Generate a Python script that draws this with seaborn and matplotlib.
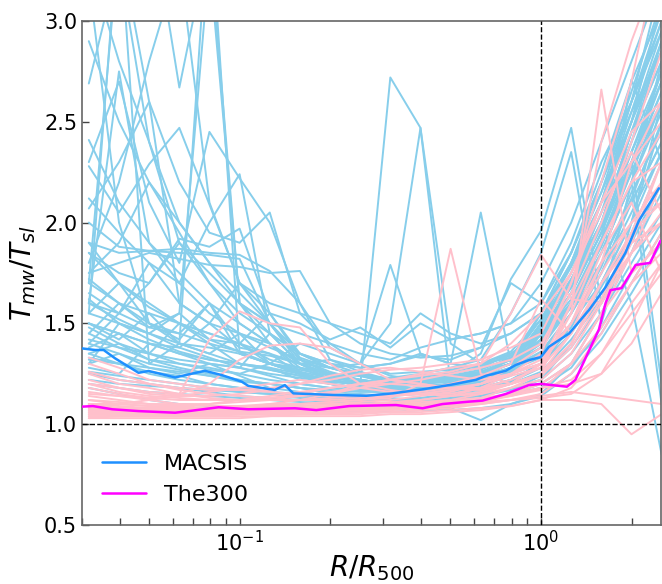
import pandas as pd
import matplotlib
matplotlib.use("Agg")
import matplotlib.pyplot as plt
import seaborn as sns

# radial bins (R/R500) of the individual profiles
radii = [0.0316, 0.0398, 0.0501, 0.0631, 0.0794, 0.1, 0.1259, 0.1585, 0.1995, 0.2512,
         0.3162, 0.3981, 0.5012, 0.631, 0.7943, 1.0, 1.2589, 1.5849, 1.9953, 2.5119]

# MACSIS individual Tmw/Tsl profiles
macsis_profiles = [
    [1.45, 1.38, 1.32, 1.28, 1.25, 1.22, 1.2, 1.18, 1.16, 1.15, 1.14, 1.15, 1.16, 1.18, 1.22, 1.3, 1.48, 1.75, 2.05, 2.35],
    [1.32, 1.3, 1.26, 1.24, 1.2, 1.18, 1.16, 1.15, 1.13, 1.12, 1.12, 1.13, 1.14, 1.16, 1.2, 1.26, 1.42, 1.62, 1.9, 2.2],
    [1.6, 1.52, 1.45, 1.38, 1.33, 1.28, 1.24, 1.2, 1.18, 1.17, 1.16, 1.18, 1.2, 1.24, 1.28, 1.35, 1.55, 1.85, 2.2, 2.6],
    [1.25, 1.22, 1.2, 1.18, 1.16, 1.14, 1.13, 1.12, 1.11, 1.1, 1.1, 1.11, 1.12, 1.14, 1.18, 1.22, 1.35, 1.55, 1.8, 2.05],
    [1.55, 1.7, 1.5, 1.42, 1.6, 1.35, 1.3, 1.25, 1.22, 1.2, 1.18, 1.2, 1.19, 1.22, 1.27, 1.33, 1.5, 1.78, 2.15, 2.45],
    [1.38, 1.45, 1.35, 1.5, 1.4, 1.3, 1.28, 1.22, 1.2, 1.18, 1.16, 1.17, 1.18, 1.2, 1.25, 1.3, 1.45, 1.68, 1.95, 2.3],
    [1.2, 1.18, 1.16, 1.15, 1.14, 1.13, 1.12, 1.11, 1.1, 1.09, 1.08, 1.09, 1.1, 1.12, 1.15, 1.2, 1.3, 1.45, 1.7, 1.95],
    [1.5, 1.42, 1.55, 1.4, 1.35, 1.45, 1.3, 1.27, 1.24, 1.22, 1.2, 1.22, 1.24, 1.26, 1.3, 1.4, 1.6, 1.9, 2.3, 2.75],
    [1.72, 1.6, 1.48, 1.55, 1.42, 1.36, 1.3, 1.26, 1.23, 1.21, 1.2, 1.21, 1.23, 1.25, 1.32, 1.42, 1.65, 1.95, 2.4, 2.9],
    [1.4, 1.35, 1.3, 1.27, 1.24, 1.21, 1.2, 1.18, 1.15, 1.14, 1.13, 1.12, 1.13, 1.15, 1.17, 1.24, 1.38, 1.6, 1.85, 2.15],
    [1.3, 1.35, 1.28, 1.25, 1.3, 1.24, 1.18, 1.16, 1.14, 1.13, 1.12, 1.13, 1.15, 1.17, 1.21, 1.28, 1.5, 1.7, 2.0, 2.5],
    [1.85, 1.7, 1.6, 1.5, 1.45, 1.4, 1.32, 1.28, 1.25, 1.24, 1.22, 1.23, 1.26, 1.3, 1.35, 1.45, 1.7, 2.05, 2.5, 3.1],
    [1.65, 1.55, 1.8, 1.6, 1.5, 1.38, 1.35, 1.25, 1.2, 1.18, 1.16, 1.16, 1.18, 1.21, 1.27, 1.5, 1.75, 2.1, 2.6, 3.2],
    [1.35, 1.3, 1.25, 1.22, 1.2, 1.18, 1.16, 1.14, 1.12, 1.11, 1.1, 1.1, 1.1, 1.12, 1.15, 1.18, 1.28, 1.48, 1.75, 2.0],
    [1.9, 1.85, 1.86, 1.85, 1.84, 1.82, 1.5, 1.32, 1.25, 1.22, 1.2, 1.21, 1.22, 1.25, 1.3, 1.5, 1.8, 2.2, 2.55, 2.85],
    [1.85, 1.75, 1.7, 1.92, 1.88, 1.97, 1.55, 1.33, 1.28, 1.24, 1.22, 1.22, 1.24, 1.27, 1.33, 1.55, 1.85, 2.25, 2.7, 3.05],
    [2.12, 1.95, 1.8, 1.7, 2.0, 2.24, 1.45, 1.35, 1.3, 1.25, 1.22, 1.24, 1.25, 1.28, 1.32, 1.45, 1.7, 2.0, 2.45, 2.8],
    [2.41, 2.1, 1.9, 1.75, 1.6, 1.5, 1.4, 1.3, 1.24, 1.2, 1.19, 1.2, 1.22, 1.25, 1.3, 1.5, 1.75, 2.1, 2.5, 2.95],
    [2.28, 2.05, 2.29, 2.47, 2.09, 1.7, 1.5, 1.3, 1.22, 1.19, 1.17, 1.17, 1.19, 1.22, 1.28, 1.45, 1.65, 1.95, 2.35, 2.7],
    [2.69, 3.3, 2.4, 2.0, 1.8, 1.6, 1.45, 1.3, 1.25, 1.2, 1.17, 1.16, 1.18, 1.21, 1.26, 1.42, 1.6, 1.9, 2.3, 2.6],
    [1.6, 2.75, 1.9, 1.7, 1.55, 1.45, 1.38, 1.32, 1.28, 1.25, 1.22, 1.24, 1.26, 1.29, 1.34, 1.44, 1.62, 1.92, 2.28, 2.65],
    [3.4, 3.5, 3.6, 2.67, 3.4, 1.6, 1.5, 1.32, 1.26, 1.22, 1.2, 1.2, 1.22, 1.25, 1.3, 1.55, 1.8, 2.15, 2.6, 3.0],
    [3.2, 2.0, 1.5, 1.45, 1.6, 1.4, 1.3, 1.25, 1.22, 1.2, 1.18, 1.2, 1.22, 1.25, 1.3, 1.38, 1.58, 1.85, 2.2, 2.55],
    [1.55, 3.5, 1.3, 1.4, 1.35, 1.3, 1.27, 1.24, 1.2, 1.18, 1.16, 1.18, 1.2, 1.22, 1.26, 1.35, 1.55, 1.8, 2.1, 2.4],
    [1.45, 1.6, 1.5, 1.4, 3.6, 1.35, 1.3, 1.25, 1.2, 1.18, 1.17, 1.18, 1.2, 1.23, 1.28, 1.36, 1.55, 1.8, 2.12, 2.5],
    [1.3, 1.5, 1.45, 1.55, 3.3, 1.6, 1.4, 1.3, 1.25, 1.22, 1.2, 1.21, 1.23, 1.26, 1.3, 1.4, 1.6, 1.88, 2.25, 2.6],
    [2.0, 1.88, 1.86, 1.87, 1.85, 1.84, 1.76, 1.6, 1.38, 1.3, 1.25, 1.26, 1.27, 1.3, 1.36, 1.52, 1.78, 2.1, 2.5, 2.9],
    [1.75, 1.8, 1.85, 1.82, 1.79, 1.78, 1.75, 1.76, 1.5, 1.4, 1.35, 1.33, 1.34, 1.38, 1.45, 1.55, 1.85, 2.2, 2.65, 3.1],
    [2.07, 2.3, 2.6, 2.2, 1.95, 1.9, 2.05, 1.55, 1.4, 1.3, 1.24, 1.22, 1.23, 1.26, 1.32, 1.52, 1.8, 2.15, 2.5, 2.85],
    [1.8, 2.2, 2.8, 3.3, 2.1, 1.7, 1.55, 1.35, 1.28, 1.24, 1.21, 1.2, 1.21, 1.24, 1.3, 1.48, 1.72, 2.0, 2.45, 2.8],
    [2.3, 2.7, 2.1, 1.8, 2.45, 2.22, 2.0, 1.6, 1.32, 1.26, 1.22, 1.22, 1.23, 1.25, 1.3, 1.5, 1.7, 2.05, 2.4, 2.75],
    [1.4, 1.55, 1.7, 1.9, 1.75, 1.6, 1.5, 1.45, 1.4, 1.35, 1.32, 1.38, 1.42, 1.45, 1.5, 1.6, 1.85, 2.2, 2.6, 3.05],
    [1.28, 1.25, 1.4, 1.35, 1.3, 1.28, 1.45, 1.35, 1.3, 1.28, 1.3, 1.35, 1.3, 1.28, 1.35, 1.45, 1.68, 2.0, 2.3, 2.65],
    [1.5, 1.45, 1.4, 1.35, 1.32, 1.3, 1.28, 1.25, 1.22, 1.19, 2.72, 2.47, 1.2, 1.18, 1.22, 1.3, 1.5, 1.75, 2.1, 2.4],
    [1.35, 1.4, 1.32, 1.3, 1.28, 1.25, 1.3, 1.4, 1.35, 1.3, 1.5, 2.47, 1.4, 1.3, 1.33, 1.4, 1.6, 1.9, 2.25, 2.6],
    [1.7, 1.6, 1.55, 1.5, 1.42, 1.4, 1.35, 1.3, 1.28, 1.3, 1.79, 1.35, 1.3, 2.05, 1.3, 1.42, 1.65, 1.95, 2.3, 2.7],
    [1.42, 1.38, 1.35, 1.32, 1.3, 1.28, 1.25, 1.23, 1.21, 1.2, 1.2, 1.22, 1.25, 1.35, 1.72, 1.96, 2.47, 1.6, 2.2, 2.8],
    [1.55, 1.5, 1.45, 1.4, 1.38, 1.35, 1.3, 1.28, 1.25, 1.24, 1.23, 1.25, 1.28, 1.32, 1.55, 1.85, 2.35, 1.5, 2.0, 2.6],
    [1.33, 1.3, 1.28, 1.26, 1.24, 1.22, 1.2, 1.18, 1.17, 1.16, 1.16, 1.17, 1.2, 1.22, 1.28, 1.38, 1.6, 1.9, 2.71, 2.3],
    [1.48, 1.4, 1.35, 1.3, 1.27, 1.25, 1.22, 1.2, 1.18, 1.17, 1.17, 1.18, 1.2, 1.24, 1.3, 1.4, 1.65, 2.0, 1.6, 0.85],
    [1.62, 1.5, 1.42, 1.36, 1.32, 1.3, 1.27, 1.24, 1.21, 1.2, 1.19, 1.2, 1.22, 1.25, 1.3, 1.42, 1.7, 2.1, 2.3, 1.2],
    [1.26, 1.24, 1.22, 1.2, 1.18, 1.16, 1.15, 1.13, 1.12, 1.11, 1.1, 1.09, 1.08, 1.02, 1.1, 1.15, 1.3, 1.55, 1.85, 2.2],
    [1.5, 1.45, 1.4, 1.38, 1.5, 1.7, 1.6, 1.55, 1.5, 1.45, 1.4, 1.55, 1.45, 1.4, 1.45, 1.55, 1.8, 2.1, 2.55, 3.0],
    [1.9, 1.7, 1.58, 1.5, 1.45, 1.4, 1.55, 1.5, 1.42, 1.48, 1.38, 1.5, 1.42, 1.45, 1.5, 1.7, 2.0, 2.4, 2.8, 3.2],
    [1.22, 1.2, 1.19, 1.18, 1.17, 1.16, 1.15, 1.14, 1.13, 1.12, 1.12, 1.12, 1.13, 1.14, 1.17, 1.22, 1.4, 1.7, 2.0, 2.35],
    [1.6, 1.55, 1.48, 1.45, 1.4, 1.36, 1.34, 1.3, 1.32, 1.28, 1.3, 1.34, 1.32, 1.38, 1.7, 1.6, 1.9, 2.3, 2.6, 2.95],
    [2.9, 2.5, 2.2, 2.0, 1.8, 1.65, 1.5, 1.35, 1.28, 1.24, 1.2, 1.19, 1.2, 1.23, 1.28, 1.5, 1.72, 2.0, 2.45, 2.9],
    [3.3, 2.8, 2.4, 1.9, 1.7, 1.55, 1.45, 1.3, 1.24, 1.2, 1.18, 1.18, 1.2, 1.22, 1.27, 1.47, 1.68, 1.98, 2.35, 2.7],
    [1.7, 3.4, 2.6, 1.6, 1.5, 1.45, 1.4, 1.28, 1.22, 1.19, 1.17, 1.17, 1.18, 1.2, 1.25, 1.46, 1.68, 1.98, 2.35, 2.75],
    [1.75, 1.9, 2.2, 1.95, 1.7, 1.5, 1.4, 1.26, 1.2, 1.17, 1.15, 1.16, 1.17, 1.19, 1.24, 1.45, 1.6, 1.85, 2.2, 1.1],
    [1.18, 1.15, 1.12, 1.1, 1.09, 1.08, 1.07, 1.07, 1.06, 1.06, 1.06, 1.07, 1.07, 1.08, 1.1, 1.14, 1.25, 1.42, 1.65, 1.9],
]

# The300 individual profiles
the300_profiles = [
    [1.08, 1.07, 1.06, 1.06, 1.06, 1.06, 1.06, 1.07, 1.07, 1.07, 1.08, 1.09, 1.1, 1.12, 1.15, 1.2, 1.3, 1.55, 1.75, 1.9],
    [1.05, 1.05, 1.04, 1.04, 1.04, 1.05, 1.05, 1.05, 1.05, 1.06, 1.06, 1.07, 1.08, 1.1, 1.12, 1.15, 1.25, 1.45, 1.7, 1.85],
    [1.12, 1.1, 1.09, 1.08, 1.08, 1.08, 1.09, 1.09, 1.1, 1.1, 1.11, 1.12, 1.14, 1.16, 1.2, 1.25, 1.4, 1.65, 1.85, 2.05],
    [1.33, 1.28, 1.22, 1.2, 1.18, 1.17, 1.16, 1.15, 1.14, 1.14, 1.15, 1.16, 1.18, 1.2, 1.25, 1.3, 1.5, 1.75, 2.0, 2.2],
    [1.25, 1.2, 1.18, 1.15, 1.13, 1.12, 1.12, 1.12, 1.12, 1.13, 1.14, 1.15, 1.17, 1.2, 1.24, 1.28, 1.45, 1.7, 1.95, 2.1],
    [1.03, 1.03, 1.03, 1.03, 1.03, 1.03, 1.04, 1.04, 1.04, 1.04, 1.05, 1.05, 1.06, 1.07, 1.09, 1.12, 1.18, 1.35, 1.55, 1.75],
    [1.1, 1.08, 1.07, 1.07, 1.07, 1.08, 1.1, 1.12, 1.15, 1.2, 1.22, 1.2, 1.18, 1.17, 1.2, 1.3, 1.5, 1.8, 2.0, 2.1],
    [1.15, 1.14, 1.13, 1.15, 1.42, 1.56, 1.5, 1.48, 1.3, 1.2, 1.17, 1.15, 1.14, 1.15, 1.18, 1.22, 1.35, 1.6, 1.85, 2.0],
    [1.2, 1.18, 1.16, 1.15, 1.2, 1.32, 1.39, 1.4, 1.38, 1.3, 1.22, 1.2, 1.18, 1.18, 1.2, 1.25, 1.4, 1.7, 1.9, 2.0],
    [1.07, 1.06, 1.06, 1.05, 1.05, 1.05, 1.05, 1.06, 1.06, 1.07, 1.07, 1.08, 1.09, 1.11, 1.14, 1.18, 1.22, 1.35, 1.6, 1.8],
    [1.1, 1.09, 1.08, 1.08, 1.08, 1.09, 1.1, 1.1, 1.11, 1.12, 1.13, 1.2, 1.87, 1.25, 1.2, 1.25, 1.45, 1.7, 1.9, 2.0],
    [1.06, 1.06, 1.05, 1.05, 1.05, 1.05, 1.06, 1.06, 1.07, 1.08, 1.09, 1.1, 1.12, 1.15, 1.2, 1.3, 1.55, 2.66, 1.75, 1.9],
    [1.09, 1.08, 1.08, 1.07, 1.07, 1.07, 1.08, 1.08, 1.09, 1.1, 1.1, 1.12, 1.14, 1.18, 1.25, 1.35, 1.7, 2.2, 2.7, 3.4],
    [1.04, 1.04, 1.04, 1.04, 1.04, 1.04, 1.04, 1.05, 1.05, 1.05, 1.06, 1.06, 1.07, 1.08, 1.09, 1.12, 1.12, 1.1, 0.95, 1.05],
    [1.3, 1.25, 1.2, 1.17, 1.15, 1.14, 1.13, 1.14, 1.15, 1.18, 1.22, 1.25, 1.28, 1.3, 1.55, 1.84, 1.62, 1.6, 1.9, 2.3],
    [1.18, 1.15, 1.13, 1.12, 1.12, 1.12, 1.13, 1.15, 1.18, 1.2, 1.22, 1.24, 1.26, 1.3, 1.4, 1.55, 1.75, 2.1, 2.3, 2.5],
    [1.06, 1.05, 1.05, 1.05, 1.06, 1.06, 1.07, 1.08, 1.09, 1.1, 1.1, 1.11, 1.12, 1.13, 1.15, 1.18, 1.2, 1.25, 1.4, 1.65],
    [1.14, 1.12, 1.1, 1.1, 1.1, 1.11, 1.12, 1.14, 1.16, 1.18, 1.2, 1.22, 1.25, 1.28, 1.32, 1.4, 1.65, 2.0, 2.4, 2.85],
    [1.22, 1.18, 1.15, 1.14, 1.14, 1.15, 1.17, 1.2, 1.24, 1.27, 1.28, 1.26, 1.24, 1.22, 1.25, 1.3, 1.6, 1.9, 2.2, 2.3],
    [1.05, 1.05, 1.05, 1.06, 1.06, 1.07, 1.07, 1.08, 1.08, 1.09, 1.09, 1.1, 1.11, 1.12, 1.14, 1.17, 1.3, 1.48, 1.7, 1.95],
    [1.1, 1.1, 1.12, 1.14, 1.16, 1.18, 1.2, 1.22, 1.2, 1.18, 1.16, 1.15, 1.15, 1.18, 1.22, 1.28, 1.55, 1.9, 2.2, 2.45],
    [1.08, 1.08, 1.07, 1.07, 1.07, 1.07, 1.07, 1.08, 1.08, 1.09, 1.1, 1.1, 1.11, 1.13, 1.18, 1.25, 1.6, 2.4, 2.9, 3.3],
    [1.04, 1.04, 1.04, 1.04, 1.05, 1.05, 1.05, 1.05, 1.06, 1.06, 1.07, 1.08, 1.09, 1.1, 1.12, 1.14, 1.16, 1.14, 1.12, 1.1],
    [1.16, 1.14, 1.12, 1.1, 1.09, 1.09, 1.09, 1.1, 1.11, 1.12, 1.14, 1.15, 1.17, 1.2, 1.25, 1.32, 1.5, 1.85, 2.1, 1.75],
    [1.12, 1.11, 1.1, 1.09, 1.08, 1.08, 1.08, 1.09, 1.1, 1.11, 1.12, 1.14, 1.16, 1.2, 1.28, 1.38, 1.7, 2.1, 2.45, 2.6],
    [1.07, 1.07, 1.06, 1.06, 1.06, 1.06, 1.06, 1.07, 1.07, 1.08, 1.08, 1.09, 1.1, 1.12, 1.15, 1.2, 1.3, 1.55, 1.85, 2.2],
    [1.2, 1.16, 1.14, 1.13, 1.12, 1.12, 1.12, 1.12, 1.13, 1.14, 1.15, 1.17, 1.2, 1.24, 1.3, 1.62, 1.45, 1.8, 2.3, 2.6],
    [1.03, 1.04, 1.04, 1.05, 1.05, 1.06, 1.06, 1.07, 1.07, 1.08, 1.08, 1.09, 1.1, 1.11, 1.12, 1.13, 1.15, 1.25, 1.5, 1.8],
    [1.1, 1.1, 1.09, 1.09, 1.1, 1.12, 1.14, 1.16, 1.18, 1.2, 1.2, 1.19, 1.18, 1.17, 1.2, 1.24, 1.38, 1.62, 1.95, 2.3],
    [1.26, 1.22, 1.2, 1.18, 1.17, 1.17, 1.18, 1.2, 1.22, 1.25, 1.27, 1.28, 1.3, 1.32, 1.38, 1.45, 1.75, 2.05, 2.35, 2.05],
]

# median profiles
macsis_med_r = [0.030, 0.0332, 0.0354, 0.0386, 0.0462, 0.0499, 0.0611, 0.0767, 0.0871, 0.1016,
                0.1069, 0.1309, 0.1413, 0.1507, 0.2037, 0.263, 0.3221, 0.4046, 0.4955, 0.6081,
                0.6561, 0.7638, 0.8241, 0.912, 0.998, 1.062, 1.239, 1.442, 1.637, 1.905, 2.113, 2.46]
macsis_med = [1.376, 1.368, 1.368, 1.327, 1.255, 1.264, 1.232, 1.265, 1.244, 1.211,
              1.19, 1.17, 1.194, 1.153, 1.145, 1.141, 1.153, 1.173, 1.194, 1.22,
              1.24, 1.265, 1.294, 1.318, 1.333, 1.384, 1.45, 1.566, 1.68, 1.85, 2.01, 2.17]
the300_med_r = [0.030, 0.0326, 0.0378, 0.0462, 0.0611, 0.0694, 0.0852, 0.1069, 0.1526, 0.1796,
                0.2312, 0.3304, 0.4046, 0.471, 0.5781, 0.6397, 0.7638, 0.912, 0.998, 1.219,
                1.30, 1.556, 1.637, 1.70, 1.85, 2.06, 2.30, 2.49]
the300_med = [1.087, 1.09, 1.074, 1.065, 1.057, 1.067, 1.084, 1.074, 1.079, 1.07,
              1.09, 1.095, 1.079, 1.10, 1.112, 1.117, 1.15, 1.194, 1.20, 1.186,
              1.22, 1.47, 1.60, 1.665, 1.675, 1.79, 1.80, 1.91]


def to_long(profiles):
    rows = []
    for k, prof in enumerate(profiles):
        for r, t in zip(radii, prof):
            rows.append({"halo": k, "R": r, "T": t})
    return pd.DataFrame(rows)


df_macsis = to_long(macsis_profiles)
df_the300 = to_long(the300_profiles)

sns.set_style("ticks")
plt.rcParams["font.family"] = ["DejaVu Sans"]
plt.rcParams["text.color"] = "black"
plt.rcParams["axes.labelcolor"] = "black"

fig = plt.figure(figsize=(6.62, 5.84), dpi=100)
ax = fig.add_axes([82 / 662, 59 / 584, 579 / 662, 504 / 584])

sns.lineplot(data=df_macsis, x="R", y="T", units="halo", estimator=None,
             color="skyblue", lw=1.4, legend=False, ax=ax, zorder=1)
sns.lineplot(data=df_the300, x="R", y="T", units="halo", estimator=None,
             color="pink", lw=1.4, legend=False, ax=ax, zorder=2)

ax.axhline(1.0, color="black", ls="--", lw=1, zorder=3)
ax.axvline(1.0, color="black", ls="--", lw=1, zorder=3)

sns.lineplot(x=macsis_med_r, y=macsis_med, color="dodgerblue", lw=1.8,
             label="MACSIS", ax=ax, zorder=4)
sns.lineplot(x=the300_med_r, y=the300_med, color="magenta", lw=1.8,
             label="The300", ax=ax, zorder=5)

ax.set_xscale("log")
ax.set_xlim(0.03, 2.5)
ax.set_ylim(0.5, 3.0)
ax.set_yticks([0.5, 1.0, 1.5, 2.0, 2.5, 3.0])

ax.set_xlabel(r"$R/R_{500}$", fontsize=20, labelpad=-1)
ax.set_ylabel(r"$T_{mw}/T_{sl}$", fontsize=20)
ax.tick_params(which="both", direction="in", labelsize=15, color="#444444",
               labelcolor="black", bottom=True, left=True, top=False, right=False)
ax.tick_params(which="major", length=5, width=1)
ax.tick_params(which="minor", length=5, width=1)
for s in ax.spines.values():
    s.set_color("#666666")
    s.set_linewidth(1.2)

ax.legend(loc="lower left", frameon=False, fontsize=16, bbox_to_anchor=(0.0, 0.0))

fig.savefig("out.png", dpi=100)
